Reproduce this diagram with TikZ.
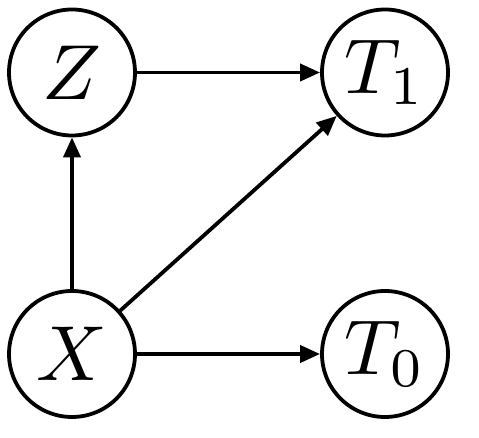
\documentclass[tikz,border=0pt]{standalone}
\usepackage{graphicx}
\usetikzlibrary{arrows.meta}
\newcommand{\varlabel}[1]{\scalebox{7.8}{$#1$}}
\begin{document}
\begin{tikzpicture}[x=1pt,y=1pt,
  var/.style={circle,draw,line width=3.8pt,minimum size=126pt,inner sep=0pt},
  edge/.style={line width=3.8pt,-{Triangle[length=20pt,width=17pt]}}]
\useasboundingbox (0,0) rectangle (479,438);
\node[var] (Z) at (72,365.5) {\varlabel{Z}};
\node[var] (T1) at (385,365.5) {\varlabel{T_1}};
\node[var] (X) at (72,84) {\varlabel{X}};
\node[var] (T0) at (385,84) {\varlabel{T_0}};
\draw[edge] (Z) -- (T1);
\draw[edge] (X) -- (Z);
\draw[edge] (X) -- (T1);
\draw[edge] (X) -- (T0);
\end{tikzpicture}
\end{document}
